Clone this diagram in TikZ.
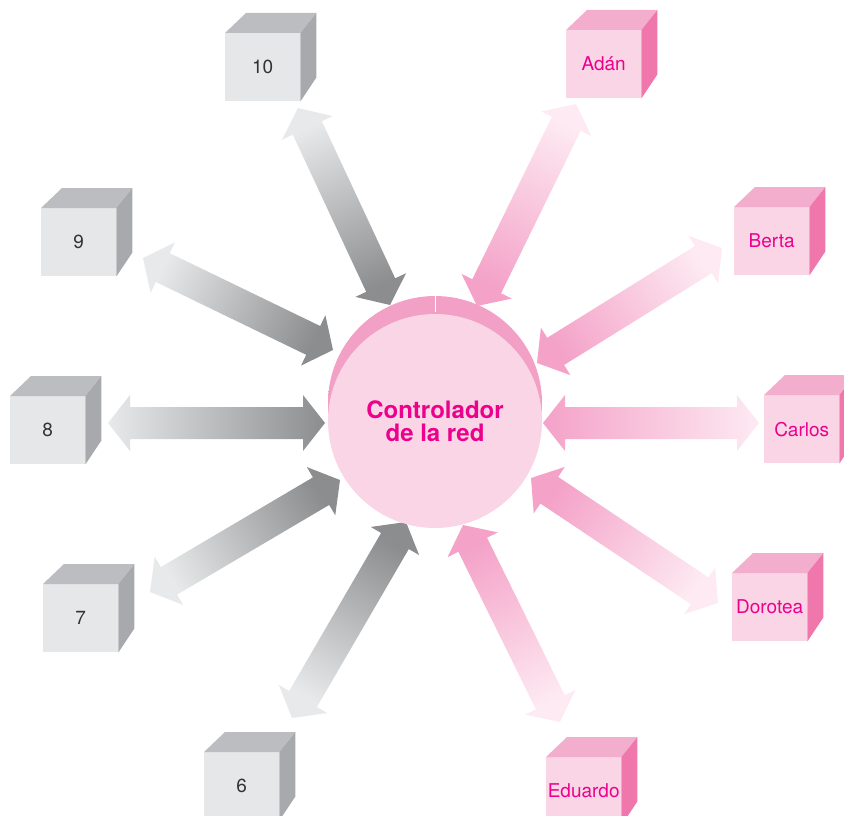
\documentclass[tikz,border=0pt]{standalone}
\usepackage{fontspec}
\setmainfont{TeX Gyre Heros}
\usetikzlibrary{calc}

\definecolor{grayfront}{HTML}{E6E7E8}
\definecolor{graytop}{HTML}{BCBDC0}
\definecolor{grayside}{HTML}{A7A9AC}
\definecolor{graytext}{HTML}{333333}
\definecolor{pinkfront}{HTML}{F9D5E5}
\definecolor{pinktop}{HTML}{F4AECD}
\definecolor{pinkside}{HTML}{EF77AC}
\definecolor{netmagenta}{HTML}{EC008C}
\definecolor{pinkrim}{HTML}{F2A0C6}
\definecolor{pinkrimlight}{HTML}{F9D3E4}
\definecolor{arrowgraydark}{HTML}{8C8D8F}
\definecolor{arrowgraylight}{HTML}{E8E9EA}
\definecolor{arrowpinkdark}{HTML}{F4A2C8}
\definecolor{arrowpinklight}{HTML}{FDEAF2}

% double headed wide arrow from #1 (inner, colour #3) to #2 (outer, colour #4)
\newcommand{\fatarrow}[4]{%
  \path let \p1=($(#2)-(#1)$) in \pgfextra{%
    \pgfmathsetmacro\arrowang{atan2(\y1,\x1)}%
    \pgfmathsetmacro\arrowshade{\arrowang+90}%
    \pgfmathsetmacro\arrowbase{veclen(\x1,\y1)-22}%
    \pgfmathsetmacro\arrowlen{veclen(\x1,\y1)}%
    \global\let\arrowang\arrowang
    \global\let\arrowshade\arrowshade
    \global\let\arrowbase\arrowbase
    \global\let\arrowlen\arrowlen};
  \shade[shift={(#1)},rotate=\arrowang,top color=#3,bottom color=#4,shading angle=\arrowshade]
    (0pt,0pt) -- (22pt,28pt) -- (22pt,16pt) -- (\arrowbase pt,16pt) -- (\arrowbase pt,28pt)
    -- (\arrowlen pt,0pt) -- (\arrowbase pt,-28pt) -- (\arrowbase pt,-16pt)
    -- (22pt,-16pt) -- (22pt,-28pt) -- cycle;
}

\begin{document}
\begin{tikzpicture}[
  x=1pt, y=-1pt,
  cube/.style={rectangle,anchor=north west,inner sep=0pt,minimum width=75pt,minimum height=68pt,
    font=\fontsize{19}{22}\selectfont},
  cubegray/.style={cube,fill=grayfront,text=graytext},
  cubepink/.style={cube,fill=pinkfront,text=netmagenta},
  ctrl/.style={circle,inner sep=0pt,minimum size=214pt,fill=pinkfront,text=netmagenta,
    align=center,font=\fontsize{24}{23}\selectfont\bfseries}
]
\useasboundingbox (0,0) rectangle (844,816);
\clip (0,0) rectangle (844,816);

% Arrow ends
\coordinate (a10i) at (390,305); \coordinate (a10o) at (298,108);
\coordinate (a9i) at (333,350);  \coordinate (a9o) at (143,258);
\coordinate (a8i) at (325,423);  \coordinate (a8o) at (108,423);
\coordinate (a7i) at (340,480);  \coordinate (a7o) at (150,592);
\coordinate (a6i) at (406,522);  \coordinate (a6o) at (292,718);
\coordinate (aai) at (477,306);  \coordinate (aao) at (576,104);
\coordinate (abi) at (537,363);  \coordinate (abo) at (722,248);
\coordinate (aci) at (543,423);  \coordinate (aco) at (759,423);
\coordinate (adi) at (531,478);  \coordinate (ado) at (718,603);
\coordinate (aei) at (463,525);  \coordinate (aeo) at (560,722);

\foreach \n in {a10,a9,a8,a7,a6}
  {\edef\tmp{\noexpand\fatarrow{\n i}{\n o}{arrowgraydark}{arrowgraylight}}\tmp}
\foreach \n in {aa,ab,ac,ad,ae}
  {\edef\tmp{\noexpand\fatarrow{\n i}{\n o}{arrowpinkdark}{arrowpinklight}}\tmp}

% Controller
\shade[left color=pinkrim,middle color=pinkrimlight,right color=pinkrim] (435,403) circle (107pt);
\draw[white,line width=0.8pt] (435,296) -- (435,312);
\node[ctrl] (ctrl) at (435,421) {Controlador\\de la red};

% Cubes
\node[cubegray] (c10) at (225,33) {10};
\node[cubegray] (c9) at (41,208) {9};
\node[cubegray] (c8) at (10,396) {8};
\node[cubegray] (c7) at (43,584) {7};
\node[cubegray] (c6) at (204,752) {6};
\node[cubepink] (adan) at (566,30) {Adán};
\node[cubepink] (berta) at (734,207) {Berta};
\node[cubepink] (carlos) at (764,395) {Carlos};
\node[cubepink] (dorotea) at (732,573) {Dorotea};
\node[cubepink] (eduardo) at (546,757) {Eduardo};

\foreach \b/\t/\s in {c10/graytop/grayside,c9/graytop/grayside,c8/graytop/grayside,
    c7/graytop/grayside,c6/graytop/grayside,adan/pinktop/pinkside,berta/pinktop/pinkside,
    carlos/pinktop/pinkside,dorotea/pinktop/pinkside,eduardo/pinktop/pinkside}
{
  \fill[\t] (\b.north west) -- ++(21,-20) -- ($(\b.north east)+(16,-20)$) -- (\b.north east) -- cycle;
  \fill[\s] (\b.north east) -- ++(16,-20) -- ($(\b.south east)+(16,-24)$) -- (\b.south east) -- cycle;
}
\end{tikzpicture}
\end{document}
